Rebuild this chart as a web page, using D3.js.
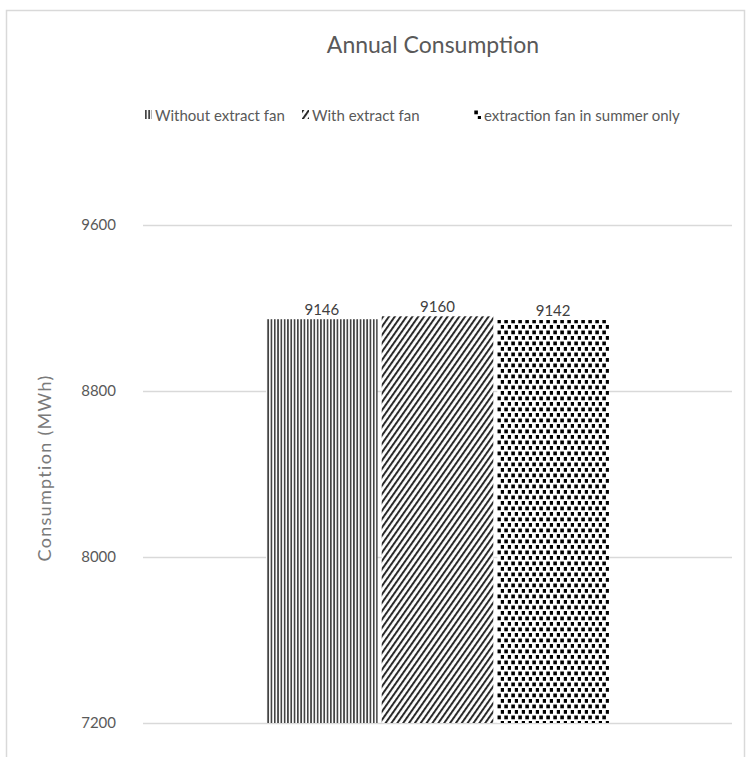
<!DOCTYPE html>
<html>
<head>
<meta charset="utf-8">
<script src="https://cdn.jsdelivr.net/npm/d3@7"></script>
<style>
  html, body { margin: 0; padding: 0; background: #fff; }
  svg { display: block; font-family: Lato, "Open Sans", sans-serif; }
</style>
</head>
<body>
<svg id="chart" width="747" height="757"></svg>
<script>
// Annual consumption per ventilation scenario
const categories = ["Annual"];
const seriesNames = ["Without extract fan", "With extract fan", "extraction fan in summer only"];
const seriesValues = [9146, 9160, 9142];
const yTicks = [7200, 8000, 8800, 9600];
const patternIds = ["pat-vert", "pat-diag", "pat-dots"];

const svg = d3.select("#chart");
const W = 747, H = 757;
const margin = { left: 143, right: 15, top: 225, bottom: 34 };
const plotW = W - margin.left - margin.right;
const plotH = H - margin.top - margin.bottom;

// Outer chart frame
svg.append("rect").attr("x", 6.5).attr("y", 10.5).attr("width", 738).attr("height", 760)
  .attr("fill", "none").attr("stroke", "#d9d9d9").attr("stroke-width", 1.5);

// Fill patterns
const defs = svg.append("defs");
const pv = defs.append("pattern").attr("id", "pat-vert").attr("patternUnits", "userSpaceOnUse")
  .attr("width", 3.3).attr("height", 10);
pv.append("rect").attr("width", 3.3).attr("height", 10).attr("fill", "#fff");
pv.append("rect").attr("x", 0).attr("width", 1.7).attr("height", 10).attr("fill", "#444");

const pd = defs.append("pattern").attr("id", "pat-diag").attr("patternUnits", "userSpaceOnUse")
  .attr("width", 4.8).attr("height", 10).attr("patternTransform", "rotate(35)");
pd.append("rect").attr("width", 4.8).attr("height", 10).attr("fill", "#fff");
pd.append("rect").attr("width", 2).attr("height", 10).attr("fill", "#2a2a2a");

const pp = defs.append("pattern").attr("id", "pat-dots").attr("patternUnits", "userSpaceOnUse")
  .attr("width", 7).attr("height", 11);
pp.append("rect").attr("width", 7).attr("height", 11).attr("fill", "#fff");
pp.append("rect").attr("x", 0.3).attr("y", 0.5).attr("width", 3.6).attr("height", 3.8).attr("fill", "#000");
pp.append("rect").attr("x", 3.8).attr("y", 6).attr("width", 3.6).attr("height", 3.8).attr("fill", "#000");

// Scales
const y = d3.scaleLinear().domain([7200, 9600]).range([margin.top + plotH, margin.top]);
const x0 = d3.scaleBand().domain(categories).range([margin.left, margin.left + plotW]).paddingInner(0).paddingOuter(0.359);
const x1 = d3.scaleBand().domain(seriesNames).range([0, x0.bandwidth()]).paddingInner(0.035);

// Gridlines
const grid = d3.axisLeft(y).tickValues(yTicks).tickSize(-plotW).tickFormat("");
const gG = svg.append("g").attr("transform", `translate(${margin.left},0)`).call(grid);
gG.select(".domain").remove();
gG.selectAll("line").attr("stroke", "#d9d9d9").attr("stroke-width", 1.3);

// Y tick labels
const yAxis = d3.axisLeft(y).tickValues(yTicks).tickSize(0).tickPadding(27).tickFormat(d3.format("d"));
const yG = svg.append("g").attr("transform", `translate(${margin.left},0)`).call(yAxis);
yG.select(".domain").remove();
yG.selectAll("text").attr("fill", "#595959").attr("font-size", 15)
  .attr("font-family", "Lato, sans-serif");

// Bars
const bars = svg.append("g");
categories.forEach(cat => {
  seriesNames.forEach((s, i) => {
    const v = seriesValues[i];
    const bx = x0(cat) + x1(s);
    bars.append("rect")
      .attr("x", bx).attr("y", y(v))
      .attr("width", x1.bandwidth()).attr("height", y(7200) - y(v))
      .attr("fill", `url(#${patternIds[i]})`);
    bars.append("text")
      .attr("x", bx + x1.bandwidth() / 2).attr("y", y(v) - 4)
      .attr("text-anchor", "middle").attr("fill", "#404040").attr("font-size", 15)
      .text(d3.format("d")(v));
  });
});

// Title
svg.append("text").attr("x", 433).attr("y", 53).attr("text-anchor", "middle")
  .attr("fill", "#595959").attr("font-size", 23).text("Annual Consumption");

// Y axis title
svg.append("text").attr("transform", "translate(51,468) rotate(-90)")
  .attr("text-anchor", "middle").attr("fill", "#7a7a7a").attr("font-size", 18)
  .attr("letter-spacing", 1.3)
  .text("Consumption (MWh)");

// Legend
const legendX = [145, 302, 474];
const legend = svg.append("g");
seriesNames.forEach((s, i) => {
  const g = legend.append("g").attr("transform", `translate(${legendX[i]},110)`);
  g.append("rect").attr("width", 7).attr("height", 9).attr("fill", `url(#${patternIds[i]})`);
  g.append("text").attr("x", 10).attr("y", 11).attr("fill", "#595959").attr("font-size", 15)
    .text(s);
});
</script>
</body>
</html>
